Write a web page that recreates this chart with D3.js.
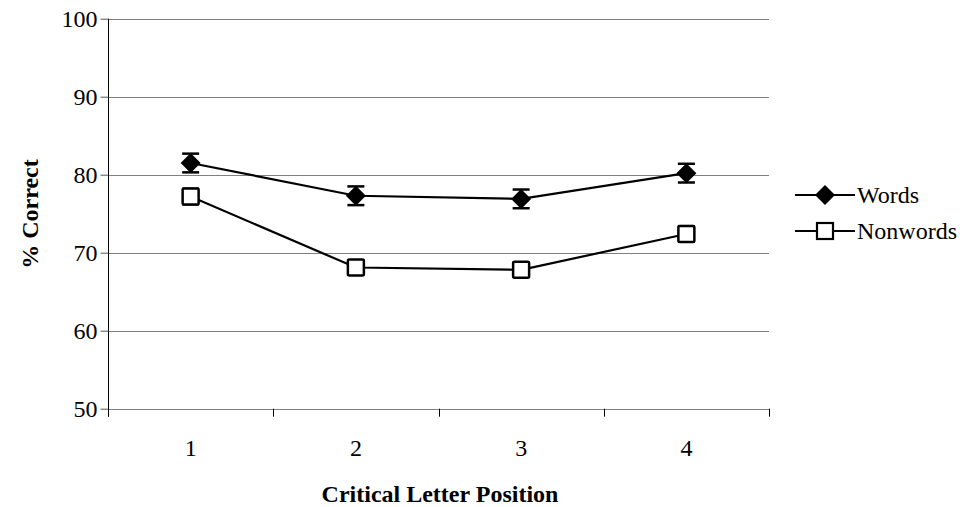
<!DOCTYPE html>
<meta charset="utf-8">
<style>
body { margin: 0; background: #fff; }
svg text { font-family: "Liberation Serif", "DejaVu Serif", serif; fill: #000; }
.grid line { stroke: #808080; stroke-width: 1px; }
.series path { fill: none; stroke: #000; stroke-width: 2.2px; }
</style>
<svg width="973" height="507" font-family="Liberation Serif"></svg>
<script src="https://cdn.jsdelivr.net/npm/d3@7"></script>
<script>

var positions = [1, 2, 3, 4];
var words = [81.5, 77.3, 76.9, 80.2];
var wordsErr = [1.2, 1.2, 1.2, 1.2];
var nonwords = [77.2, 68.1, 67.8, 72.4];
var nonwordsErr = [1.0, 0.9, 0.9, 1.0];
var yTicks = [50, 60, 70, 80, 90, 100];

var svg = d3.select("svg");

var x = d3.scaleBand().domain(positions).range([108, 769]).padding(0);
var y = d3.scaleLinear().domain([50, 100]).range([408.7, 18.7]);

// gridlines
svg.append("g").attr("class", "grid")
  .selectAll("line").data(yTicks).enter().append("line")
    .attr("x1", 108).attr("x2", 769)
    .attr("y1", function(d) { return Math.round(y(d)) + 0.5; })
    .attr("y2", function(d) { return Math.round(y(d)) + 0.5; });

// y axis
var yAxis = svg.append("g")
  .attr("transform", "translate(108.5,0)")
  .call(d3.axisLeft(y).tickValues(yTicks).tickSize(8).tickPadding(3));
yAxis.attr("font-family", null).attr("font-size", null);
yAxis.select(".domain").attr("stroke", "#000").attr("d", "M0," + y(100) + "V" + (y(50) + 8));
yAxis.selectAll(".tick line").attr("stroke", "#555");
yAxis.selectAll(".tick text").attr("font-size", 24).attr("fill", "#000");

// x axis: ticks at category boundaries
var edges = positions.map(function(d) { return x(d); }).concat([x(4) + x.bandwidth()]);
svg.append("g").selectAll("line").data(edges).enter().append("line")
  .attr("x1", function(d) { return Math.round(d) + 0.5; })
  .attr("x2", function(d) { return Math.round(d) + 0.5; })
  .attr("y1", y(50)).attr("y2", y(50) + 8)
  .attr("stroke", "#000").attr("stroke-width", 1);

svg.append("g").selectAll("text").data(positions).enter().append("text")
  .attr("x", function(d) { return x(d) + x.bandwidth() / 2; })
  .attr("y", 456)
  .attr("text-anchor", "middle")
  .attr("font-size", 24)
  .text(function(d) { return d; });

// axis titles
svg.append("text")
  .attr("x", 440).attr("y", 502)
  .attr("text-anchor", "middle")
  .attr("font-size", 24).attr("font-weight", "bold")
  .text("Critical Letter Position");

svg.append("text")
  .attr("transform", "translate(38,214) rotate(-90)")
  .attr("text-anchor", "middle")
  .attr("font-size", 24).attr("font-weight", "bold")
  .text("% Correct");

var cx = function(d, i) { return x(positions[i]) + x.bandwidth() / 2; };
var line = d3.line().x(cx).y(function(d) { return y(d); });

function errorBars(g, vals, errs) {
  var eb = g.append("g").selectAll("g").data(vals).enter().append("g");
  eb.append("line")
    .attr("x1", cx).attr("x2", cx)
    .attr("y1", function(d, i) { return y(d + errs[i]); })
    .attr("y2", function(d, i) { return y(d - errs[i]); })
    .attr("stroke", "#000").attr("stroke-width", 1.5);
  [1, -1].forEach(function(s) {
    eb.append("line")
      .attr("x1", function(d, i) { return cx(d, i) - 8.5; })
      .attr("x2", function(d, i) { return cx(d, i) + 8.5; })
      .attr("y1", function(d, i) { return y(d + s * errs[i]); })
      .attr("y2", function(d, i) { return y(d + s * errs[i]); })
      .attr("stroke", "#000").attr("stroke-width", 2.5);
  });
}

var diamond = "M0,-10L10,0L0,10L-10,0Z";

// Words
var gW = svg.append("g").attr("class", "series");
gW.append("path").datum(words).attr("d", line);
errorBars(gW, words, wordsErr);
gW.selectAll(".pt").data(words).enter().append("path")
  .attr("class", "pt")
  .attr("transform", function(d, i) { return "translate(" + cx(d, i) + "," + y(d) + ")"; })
  .attr("d", diamond)
  .style("fill", "#000").style("stroke", "none");

// Nonwords
var gN = svg.append("g").attr("class", "series");
gN.append("path").datum(nonwords).attr("d", line);
errorBars(gN, nonwords, nonwordsErr);
gN.selectAll(".pt").data(nonwords).enter().append("rect")
  .attr("class", "pt")
  .attr("x", function(d, i) { return cx(d, i) - 8; })
  .attr("y", function(d) { return y(d) - 8; })
  .attr("width", 16).attr("height", 16)
  .attr("rx", 1.5)
  .style("fill", "#fff").style("stroke", "#000").style("stroke-width", 2.5);

// legend
var legend = [
  { name: "Words", y: 195, shape: "diamond" },
  { name: "Nonwords", y: 231, shape: "square" }
];
var lg = svg.append("g").selectAll("g").data(legend).enter().append("g")
  .attr("transform", function(d) { return "translate(0," + d.y + ")"; });
lg.append("line").attr("x1", 795).attr("x2", 855).attr("y1", 0).attr("y2", 0)
  .attr("stroke", "#000").attr("stroke-width", 2.2);
lg.filter(function(d) { return d.shape === "diamond"; }).append("path")
  .attr("transform", "translate(825,0)").attr("d", diamond).attr("fill", "#000");
lg.filter(function(d) { return d.shape === "square"; }).append("rect")
  .attr("x", 817).attr("y", -8).attr("width", 16).attr("height", 16)
  .attr("fill", "#fff").attr("stroke", "#000").attr("stroke-width", 2.2);
lg.append("text").attr("x", 857).attr("y", 0).attr("dy", "0.33em")
  .attr("font-size", 24).text(function(d) { return d.name; });

</script>
